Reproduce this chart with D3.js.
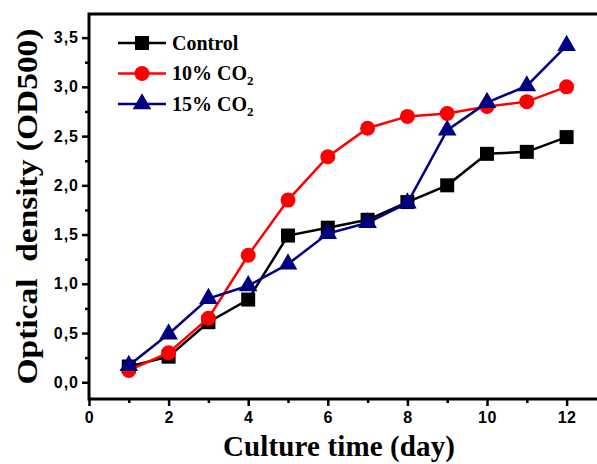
<!DOCTYPE html>
<html>
<head>
<meta charset="utf-8">
<script src="https://cdn.jsdelivr.net/npm/d3@7"></script>
<style>
  body { margin: 0; background: #fff; }
  svg { display: block; font-family: "Liberation Serif", "Times New Roman", serif; font-weight: bold; }
</style>
</head>
<body>
<svg width="597" height="464"></svg>
<script>
// data
const days = [1, 2, 3, 4, 5, 6, 7, 8, 9, 10, 11, 12];
const control = [0.16, 0.26, 0.61, 0.84, 1.49, 1.57, 1.65, 1.83, 2.00, 2.32, 2.34, 2.49];
const co2_10 = [0.12, 0.30, 0.65, 1.29, 1.85, 2.29, 2.58, 2.70, 2.73, 2.80, 2.85, 3.00];
const co2_15 = [0.17, 0.49, 0.85, 0.98, 1.20, 1.51, 1.62, 1.82, 2.56, 2.84, 3.01, 3.42];
const xTicks = [0, 2, 4, 6, 8, 10, 12];
const yTicks = [0, 0.5, 1, 1.5, 2, 2.5, 3, 3.5];

const series = [
    { name: "Control", sub: "", values: control, color: "#000000", shape: "square" },
    { name: "10% CO", sub: "2", values: co2_10, color: "#ff0000", shape: "circle" },
    { name: "15% CO", sub: "2", values: co2_15, color: "#000080", shape: "triangle" }
];

const svg = d3.select("svg");

const x = d3.scaleLinear().domain([0, 13]).range([89, 606.4]);
const y = d3.scaleLinear().domain([-0.17, 3.74]).range([399, 14]);

const fmt = d3.formatLocale({ decimal: ",", thousands: ".", grouping: [3], currency: ["", ""] }).format(".1f");

// frame
svg.append("rect")
    .attr("x", x(0)).attr("y", y(3.74))
    .attr("width", x(13) - x(0)).attr("height", y(-0.17) - y(3.74))
    .attr("fill", "none").attr("stroke", "#000").attr("stroke-width", 3);

// x axis
const xAxis = svg.append("g").attr("transform", `translate(0,${y(-0.17)})`);
xAxis.call(d3.axisBottom(x).tickValues(d3.range(1, 13, 2)).tickSize(4).tickFormat(""))
    .call(g => g.select(".domain").remove())
    .selectAll("line").attr("stroke-width", 2.5);
const xMajor = svg.append("g").attr("transform", `translate(0,${y(-0.17)})`);
xMajor.call(d3.axisBottom(x).tickValues(xTicks).tickSize(7).tickPadding(6))
    .call(g => g.select(".domain").remove());
xMajor.selectAll("line").attr("stroke-width", 2.5);
xMajor.selectAll("text").attr("font-size", 16).attr("font-family", null).attr("fill", "#000")
    .attr("letter-spacing", 0.5);

// y axis
const yMinor = svg.append("g").attr("transform", `translate(${x(0)},0)`);
yMinor.call(d3.axisLeft(y).tickValues(d3.range(0.25, 3.6, 0.5)).tickSize(4).tickFormat(""))
    .call(g => g.select(".domain").remove())
    .selectAll("line").attr("stroke-width", 2.5);
const yMajor = svg.append("g").attr("transform", `translate(${x(0)},0)`);
yMajor.call(d3.axisLeft(y).tickValues(yTicks).tickSize(7).tickPadding(3).tickFormat(fmt))
    .call(g => g.select(".domain").remove());
yMajor.selectAll("line").attr("stroke-width", 2.5);
yMajor.selectAll("text").attr("font-size", 16).attr("font-family", null).attr("fill", "#000")
    .attr("letter-spacing", 1);

// axis titles
svg.append("text")
    .attr("x", 339).attr("y", 456)
    .attr("text-anchor", "middle")
    .attr("font-size", 29)
    .attr("textLength", 232)
    .text("Culture time (day)");

svg.append("text")
    .attr("transform", "translate(37,206.5) rotate(-90)")
    .attr("text-anchor", "middle")
    .attr("font-size", 30)
    .attr("textLength", 356)
    .attr("lengthAdjust", "spacingAndGlyphs")
    .text("Optical\u00a0\u00a0density (OD500)");

// lines and markers
const line = d3.line()
    .x((d, i) => x(days[i]))
    .y(d => y(d));

function drawMarker(g, shape, color) {
    if (shape == "square") {
        g.append("rect").attr("x", -7).attr("y", -7).attr("width", 14).attr("height", 14).attr("fill", color);
    } else if (shape == "circle") {
        g.append("circle").attr("r", 7.5).attr("fill", color);
    } else {
        g.append("path").attr("d", d3.symbol(d3.symbolTriangle, 150)()).attr("fill", color);
    }
}

series.forEach(s => {
    svg.append("path")
        .attr("d", line(s.values))
        .attr("fill", "none")
        .attr("stroke", s.color)
        .attr("stroke-width", 2.5);

    s.values.forEach((v, i) => {
        const g = svg.append("g").attr("transform", `translate(${x(days[i])},${y(v)})`);
        drawMarker(g, s.shape, s.color);
    });
});

// legend
const legend = svg.append("g");
series.forEach((s, i) => {
    const ly = 43 + i * 30.5;
    legend.append("line")
        .attr("x1", 118).attr("x2", 166).attr("y1", ly).attr("y2", ly)
        .attr("stroke", s.color).attr("stroke-width", 2.5);
    const g = legend.append("g").attr("transform", `translate(142,${ly})`);
    drawMarker(g, s.shape, s.color);
    const t = legend.append("text")
        .attr("x", 172).attr("y", ly + 6.5)
        .attr("font-size", 20)
        .text(s.name);
    if (s.sub) t.append("tspan").attr("font-size", 13).attr("dy", 5).text(s.sub);
});
</script>
</body>
</html>
